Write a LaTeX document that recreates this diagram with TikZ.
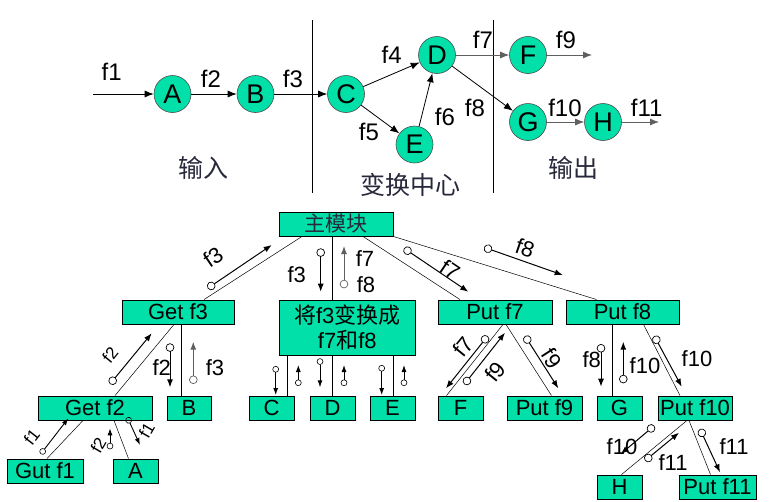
\documentclass[tikz,border=0pt]{standalone}
\usepackage{fontspec}
\setmainfont{Liberation Sans}
\newfontfamily\cjk{Noto Sans CJK SC}
\usetikzlibrary{arrows.meta}
\definecolor{tealfill}{RGB}{0,224,168}
\definecolor{linegray}{RGB}{95,95,95}
\definecolor{cjkink}{RGB}{40,40,60}
\begin{document}
\begin{tikzpicture}[x=1pt,y=-1pt,
  circ/.style={circle,draw=black!70,line width=0.6pt,fill=tealfill,minimum size=37pt,inner sep=0pt,font=\fontsize{27}{27}\selectfont},
  box/.style={rectangle,draw=black,line width=0.9pt,fill=tealfill,inner sep=0pt,minimum height=24pt,font=\fontsize{22}{24}\selectfont},
  flow/.style={-{Latex[length=9pt,width=7pt]},line width=0.8pt},
  lbl/.style={font=\fontsize{24}{24}\selectfont,inner sep=0pt},
  blbl/.style={font=\fontsize{22}{22}\selectfont,inner sep=0pt},
  slbl/.style={font=\fontsize{17}{17}\selectfont,inner sep=0pt},
  cjklbl/.style={font=\cjk\fontsize{25}{25}\selectfont,text=cjkink,inner sep=0pt},
  conn/.style={line width=0.5pt},
  couple/.style={{Circle[open,length=8.5pt,width=8.5pt,line width=0.7pt]}-{Latex[length=8pt,width=6pt]},line width=1pt},
  scouple/.style={{Circle[open,length=6.5pt,width=6.5pt,line width=0.6pt]}-{Latex[length=7pt,width=5pt]},line width=0.9pt},
]
\useasboundingbox (0,0) rectangle (779,501);

% ---------- top data-flow part ----------
\coordinate (s1t) at (312,20); \coordinate (s1b) at (312,193);
\coordinate (s2t) at (493,20); \coordinate (s2b) at (493,193);
\draw[line width=0.8pt] (s1t) -- (s1b);
\draw[line width=0.8pt] (s2t) -- (s2b);

\node[circ] (A) at (172.5,94) {A};
\node[circ] (B) at (255.5,94) {B};
\node[circ] (C) at (346,94) {C};
\node[circ] (D) at (437,55) {D};
\node[circ] (E) at (414.5,144.5) {E};
\node[circ] (F) at (528,55) {F};
\node[circ] (G) at (528,122) {G};
\node[circ] (H) at (603,122) {H};
\coordinate (in0) at (93,94);
\coordinate (outF) at (592,55);
\coordinate (outH) at (659,122);

\draw[flow] (in0) -- (A);
\draw[flow] (A) -- (B);
\draw[flow] (B) -- (C);
\draw[flow] (C) -- (D);
\draw[flow] (C) -- (E);
\draw[flow] (E) -- (D);
\draw[flow,linegray] (D) -- (F);
\draw[flow,linegray] (F) -- (outF);
\draw[flow] (D) -- (G);
\draw[flow,linegray] (G) -- (H);
\draw[flow,linegray] (H) -- (outH);

\node[lbl] (lf1) at (111.7,72) {f1};
\node[lbl] (lf2) at (211,79) {f2};
\node[lbl] (lf3) at (293,79) {f3};
\node[lbl] (lf4) at (391.7,55) {f4};
\node[lbl] (lf5) at (369,131.7) {f5};
\node[lbl] (lf6) at (445,116.7) {f6};
\node[lbl] (lf7) at (483,40) {f7};
\node[lbl] (lf9) at (566,40) {f9};
\node[lbl] (lf8) at (475,108) {f8};
\node[lbl] (lf10) at (565,108) {f10};
\node[lbl] (lf11) at (646.7,108) {f11};

\node[cjklbl] (inp) at (203,168) {输入};
\node[cjklbl] (trc) at (410,185) {变换中心};
\node[cjklbl] (outp) at (573,168) {输出};

% ---------- bottom structure chart ----------
\node[box,minimum width=114pt,font=\cjk\fontsize{21}{22}\selectfont,text=cjkink] (main) at (336,224) {主模块};
\node[box,minimum width=112pt] (getf3) at (178,312) {Get f3};
\node[box,minimum width=136.7pt,minimum height=55.7pt,align=center,font=\fontsize{22}{25}\selectfont] (conv) at (347.3,327.8) {{\cjk 将}f3{\cjk 变换成}\\f7{\cjk 和}f8};
\node[box,minimum width=114pt] (putf7) at (495,312) {Put f7};
\node[box,minimum width=113pt] (putf8) at (622.5,312) {Put f8};
\node[box,minimum width=114pt] (getf2) at (95,408) {Get f2};
\node[box,minimum width=44pt] (bB) at (189,408) {B};
\node[box,minimum width=76pt] (gutf1) at (45,471) {Gut f1};
\node[box,minimum width=45pt] (aA) at (135.5,471) {A};
\node[box,minimum width=45pt] (cC) at (271.5,408) {C};
\node[box,minimum width=45pt] (dD) at (332.5,408) {D};
\node[box,minimum width=45pt] (eE) at (392.5,408) {E};
\node[box,minimum width=45pt] (fF) at (460.5,408) {F};
\node[box,minimum width=75pt] (putf9) at (544.5,408) {Put f9};
\node[box,minimum width=45pt] (gG) at (619.5,408) {G};
\node[box,minimum width=74pt] (putf10) at (695,408) {Put f10};
\node[box,minimum width=45pt] (hH) at (619.5,487) {H};
\node[box,minimum width=77pt] (putf11) at (717.5,487) {Put f11};

% connectors
\draw[conn] ([xshift=-34pt]main.south) -- ([xshift=26pt]getf3.north);
\draw[conn] ([xshift=-4pt]main.south) -- ([xshift=-4pt]main.south |- conv.north);
\draw[conn] ([xshift=27pt]main.south) -- ([xshift=-35pt]putf7.north);
\draw[conn] (main.south east) -- ([xshift=-26pt]putf8.north);
\draw[conn] ([xshift=-4pt]getf3.south) -- ([xshift=20pt]getf2.north);
\draw[conn] ([xshift=-7.3pt]bB.north) -- ([xshift=-7.3pt]bB.north |- getf3.south);
\draw[conn] ([xshift=-12pt]getf2.south) -- ([xshift=2pt]gutf1.north);
\draw[conn] ([xshift=19pt]getf2.south) -- ([xshift=-7pt]aA.north);
\draw[conn] ([xshift=16pt]cC.north) -- ([xshift=16pt]cC.north |- conv.south);
\draw[conn] (dD.north) -- (dD.north |- conv.south);
\draw[conn] ([xshift=1pt]eE.north) -- ([xshift=1pt]eE.north |- conv.south);
\draw[conn] ([xshift=8pt]putf7.south) -- ([xshift=-14pt]fF.north);
\draw[conn] ([xshift=11pt]putf7.south) -- ([xshift=7pt]putf9.north);
\draw[conn] ([xshift=-7pt]gG.north) -- ([xshift=-7pt]gG.north |- putf8.south);
\draw[conn] ([xshift=21pt]putf8.south) -- ([xshift=-15pt]putf10.north);
\draw[conn] ([xshift=-8pt]putf10.south) -- ([xshift=2pt]hH.north);
\draw[conn] ([xshift=-6pt]putf10.south) -- ([xshift=-7pt]putf11.north);

% data couples
\draw[couple] (207.7,288.3) coordinate (k1a) -- (271.7,245) coordinate (k1b);
\node[blbl,rotate=34] (k1l) at (213,257) {f3};
\draw[couple] (320.7,248.3) coordinate (k2a) -- (320.7,291.7) coordinate (k2b);
\node[blbl] (k2l) at (296.7,275) {f3};
\draw[couple,linegray] (344,288.3) coordinate (k3a) -- (344,246) coordinate (k3b);
\node[blbl] (k3l) at (365,259) {f7};
\node[blbl] (k3m) at (366,285) {f8};
\draw[couple] (404,248.3) coordinate (k4a) -- (468.3,291.7) coordinate (k4b);
\node[blbl,rotate=-34] (k4l) at (450,270) {f7};
\draw[couple] (484,247.3) coordinate (k5a) -- (562.7,275) coordinate (k5b);
\node[blbl,rotate=-19] (k5l) at (525,248) {f8};

\draw[couple] (110,384) coordinate (k6a) -- (151.7,333.3) coordinate (k6b);
\node[slbl,rotate=51] (k6l) at (110,355) {f2};
\draw[couple] (170,343.3) coordinate (k7a) -- (170,387.3) coordinate (k7b);
\node[blbl] (k7l) at (161.7,367.3) {f2};
\draw[couple,linegray] (193.3,384) coordinate (k8a) -- (193.3,341.7) coordinate (k8b);
\node[blbl] (k8l) at (215,367.3) {f3};

\draw[scouple] (40.7,454) coordinate (k9a) -- (68.3,418.3) coordinate (k9b);
\node[slbl,rotate=52] (k9l) at (31.7,436.7) {f1};
\draw[scouple] (110,449.3) coordinate (k10a) -- (110,428.3) coordinate (k10b);
\node[slbl,rotate=60] (k10l) at (98.3,445) {f2};
\draw[scouple] (127.3,417.3) coordinate (k11a) -- (140,445) coordinate (k11b);
\node[slbl,rotate=60] (k11l) at (146.7,430) {f1};

\draw[scouple] (275.7,366) coordinate (kc1a) -- (275.7,395) coordinate (kc1b);
\draw[scouple] (298.3,386) coordinate (kc2a) -- (298.3,365) coordinate (kc2b);
\draw[scouple] (320,358.3) coordinate (kd1a) -- (320,387.3) coordinate (kd1b);
\draw[scouple] (344,386) coordinate (kd2a) -- (344,365) coordinate (kd2b);
\draw[scouple] (381.7,365) coordinate (ke1a) -- (381.7,395) coordinate (ke1b);
\draw[scouple] (404,386) coordinate (ke2a) -- (404,365) coordinate (ke2b);

\draw[couple] (487.7,336) coordinate (k13a) -- (446,388.3) coordinate (k13b);
\node[blbl,rotate=51] (k13l) at (463.3,346.7) {f7};
\draw[couple] (464.3,384.3) coordinate (k14a) -- (505,332.7) coordinate (k14b);
\node[blbl,rotate=51] (k14l) at (495,371.7) {f9};
\draw[couple] (525,336) coordinate (k15a) -- (558.3,388.3) coordinate (k15b);
\node[blbl,rotate=-57] (k15l) at (551.7,358.3) {f9};

\draw[couple] (601,344) coordinate (k16a) -- (601,386.7) coordinate (k16b);
\node[blbl] (k16l) at (591.7,359.3) {f8};
\draw[couple] (623.3,383.3) coordinate (k17a) -- (623.3,341.7) coordinate (k17b);
\node[blbl] (k17l) at (645,366) {f10};
\draw[couple] (654.3,336) coordinate (k18a) -- (681.7,386.7) coordinate (k18b);
\node[blbl] (k18l) at (697,358.3) {f10};
\draw[couple] (654.3,425.7) coordinate (k19a) -- (620.7,454) coordinate (k19b);
\node[blbl] (k19l) at (622,446.7) {f10};
\draw[couple] (645,460.7) coordinate (k20a) -- (679,432.7) coordinate (k20b);
\node[blbl] (k20l) at (673,462.7) {f11};
\draw[couple] (700,429) coordinate (k21a) -- (720,472.3) coordinate (k21b);
\node[blbl] (k21l) at (734,446.7) {f11};
\end{tikzpicture}
\end{document}
